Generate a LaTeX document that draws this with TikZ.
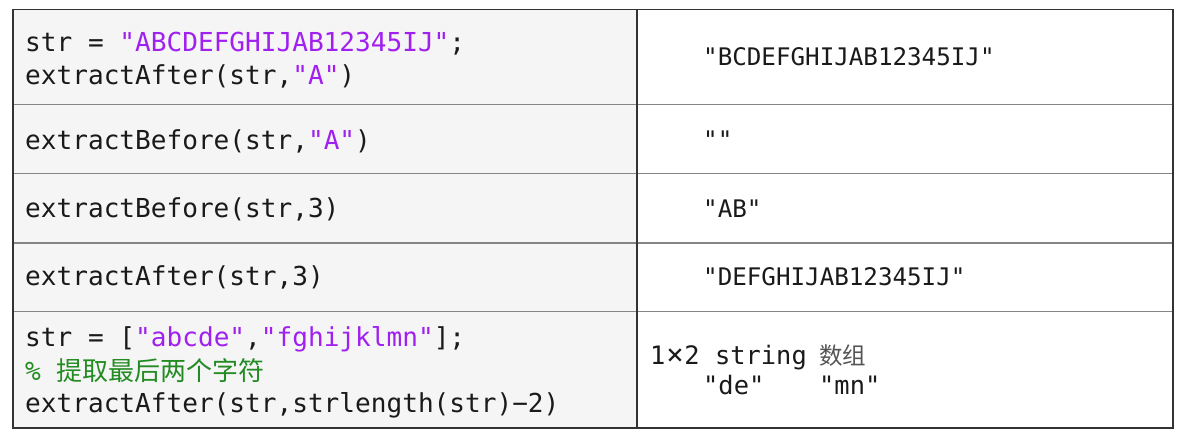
\documentclass[tikz,border=0pt]{standalone}
\usepackage{fontspec}
\newfontfamily\mono{DejaVu Sans Mono}
\newfontfamily\cjk{Noto Sans CJK SC}
\definecolor{txt}{HTML}{1A1A1A}
\definecolor{strc}{HTML}{A020F0}
\definecolor{cmt}{HTML}{228B22}
\definecolor{cellbg}{HTML}{F5F5F5}
\definecolor{outerc}{HTML}{333333}
\definecolor{innerc}{HTML}{858585}
\definecolor{cjkgray}{HTML}{555555}
\begin{document}
\begin{tikzpicture}[x=1pt,y=-1pt,
  code/.style={anchor=base west, inner sep=0pt, text=txt, font=\mono\fontsize{26.1}{32}\selectfont},
  res/.style={anchor=base west, inner sep=0pt, text=txt, font=\mono\fontsize{24.2}{30}\selectfont},
  res5/.style={anchor=base west, inner sep=0pt, text=txt, font=\mono\fontsize{25.4}{30}\selectfont},
  rowline/.style={draw=innerc, line width=1.5pt},
  frame/.style={draw=outerc, line width=1.5pt}]
\useasboundingbox (0,0) rectangle (1192,435);
\fill[white] (0,0) rectangle (1192,435);
\fill[cellbg] (13,9.5) rectangle (637,428);
\foreach \y in {104.3,173.5,243,311.5}{\draw[rowline] (13,\y) -- (1173,\y);}
\draw[frame] (637,9.5) -- (637,428);
\draw[frame] (13,9.5) rectangle (1173,428);
% left column
\node[code] (c1a) at (25,52) {str = \textcolor{strc}{"ABCDEFGHIJAB12345IJ"};};
\node[code] (c1b) at (25,85) {extractAfter(str,\textcolor{strc}{"A"})};
\node[code] (c2) at (25,150) {extractBefore(str,\textcolor{strc}{"A"})};
\node[code] (c3) at (25,218) {extractBefore(str,3)};
\node[code] (c4) at (25,286) {extractAfter(str,3)};
\node[code] (c5a) at (25,347) {str = [\textcolor{strc}{"abcde"},\textcolor{strc}{"fghijklmn"}];};
\node[code] (c5b) at (25,381) {\color{cmt}\% {\cjk\fontsize{26}{32}\selectfont 提取最后两个字符}};
\node[code] (c5c) at (25,413) {extractAfter(str,strlength(str)−2)};
% right column
\node[res] (r1) at (703,66) {"BCDEFGHIJAB12345IJ"};
\node[res] (r2) at (703,149) {""};
\node[res] (r3) at (703,218) {"AB"};
\node[res] (r4) at (703,286) {"DEFGHIJAB12345IJ"};
\node[res5] (r5a) at (650,365) {1\makebox[19pt]{\fontsize{29}{30}\selectfont ×}2 string\hspace{-3pt} {\cjk\color{cjkgray}\fontsize{23.5}{30}\selectfont 数组}};
\node[res5] (r5b) at (703,395) {"de"};
\node[res5] (r5c) at (819,395) {"mn"};
\end{tikzpicture}
\end{document}
